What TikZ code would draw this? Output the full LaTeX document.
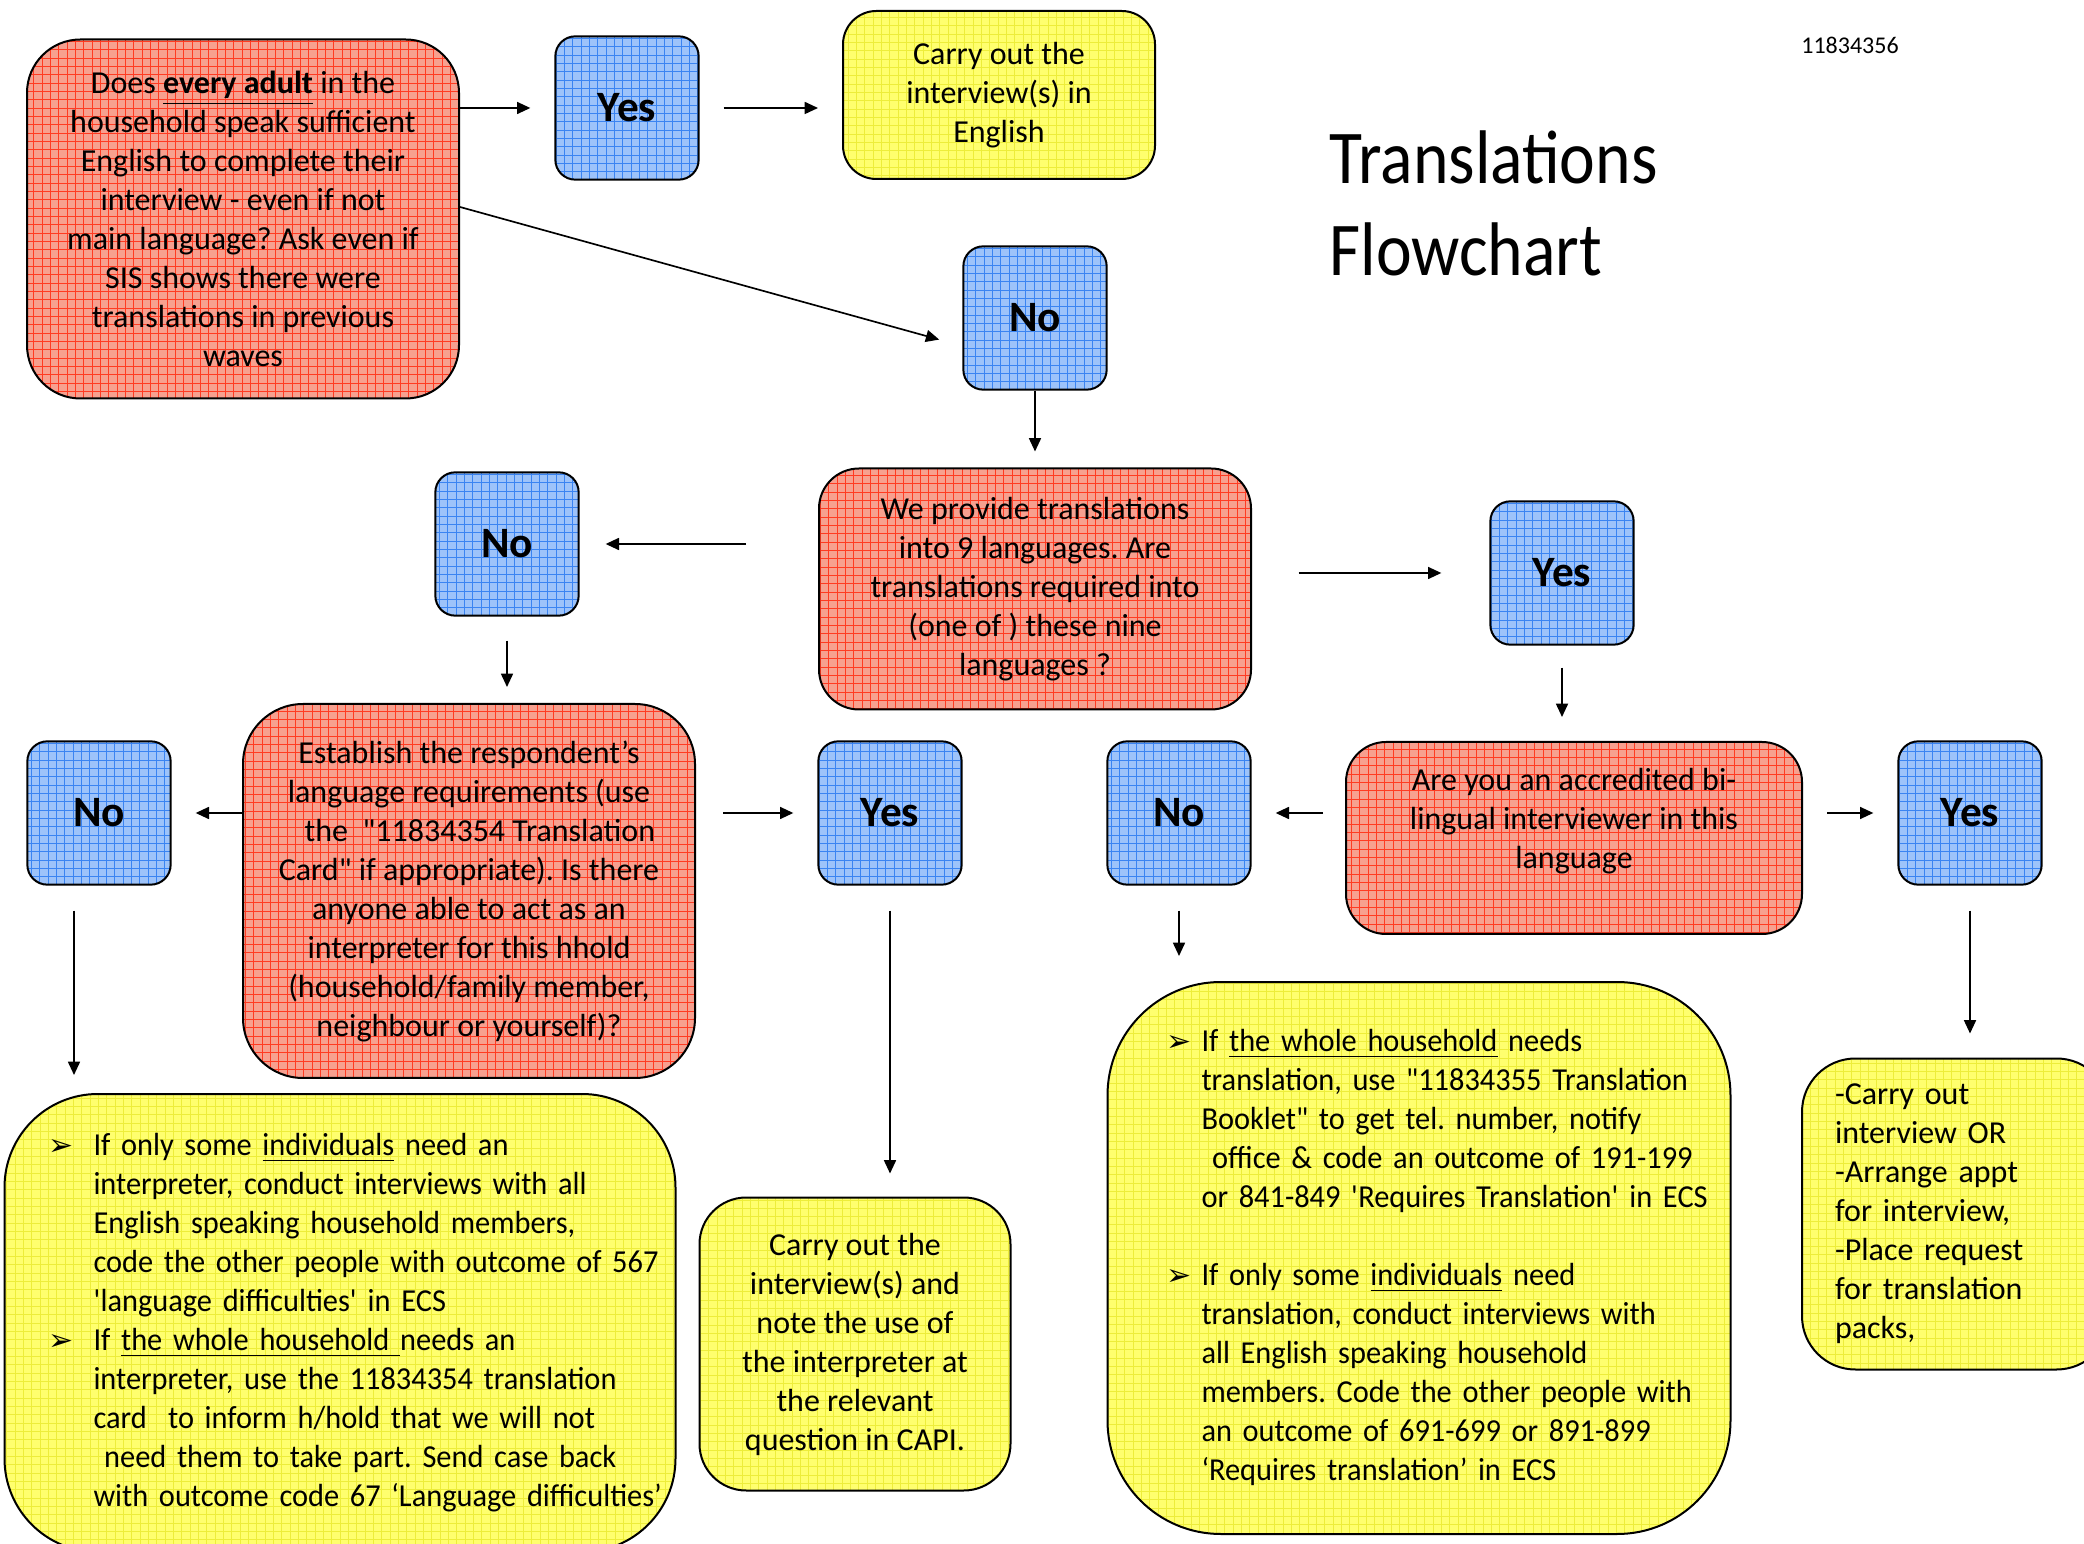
\documentclass[tikz,border=0pt]{standalone}
\usepackage{fontspec}
\setmainfont[Ligatures=TeXOff]{Carlito}
\newfontfamily\narrowfont[FakeStretch=0.95,WordSpace=0.8]{Carlito}
\newfontfamily\titlefont[FakeStretch=0.89]{Carlito}
\newfontfamily\symfont{DejaVu Sans}
\usetikzlibrary{arrows.meta,calc,positioning}
\definecolor{redfill}{HTML}{F7A08F}
\definecolor{redgrid}{HTML}{FF3B22}
\definecolor{bluefill}{HTML}{9DC3FA}
\definecolor{bluegrid}{HTML}{3A84F2}
\definecolor{yelfill}{HTML}{FFFF6E}
\definecolor{yelgrid}{HTML}{EDED3A}
\newcommand\bul{{\symfont\fontsize{9}{9}\selectfont ➢}}
\newcommand\sq{\textquotesingle}
\frenchspacing
\tikzset{
  gridfill/.style={path picture={\draw[#1,line width=0.3pt,step=2.5pt] (path picture bounding box.south west) grid (path picture bounding box.north east);}},
  box/.style={draw=black,line width=0.6pt,align=center,inner sep=0pt,font=\fontsize{9.6}{11.7}\selectfont},
  redbox/.style={box,fill=redfill,gridfill=redgrid},
  bluebox/.style={box,fill=bluefill,gridfill=bluegrid,minimum width=43pt,minimum height=43pt,rounded corners=6pt,font=\fontsize{13}{15}\selectfont\bfseries},
  yelbox/.style={box,fill=yelfill,gridfill=yelgrid},
  arr/.style={-{Triangle[length=4pt,width=3.6pt]},line width=0.5pt,shorten <=7.2pt,shorten >=7.2pt},
}
\begin{document}
\begin{tikzpicture}[x=0.3pt,y=-0.3pt]
\fill[white] (0,0) rectangle (2084,1544);
\useasboundingbox (0,0) rectangle (2084,1544);

\node[redbox,minimum width=129.6pt,minimum height=107.7pt,rounded corners=16pt] (q1) at (243,219)
  {Does \underline{\textbf{every adult}} in the\\household speak sufficient\\English to complete their\\interview - even if not\\main language? Ask even if\\SIS shows there were\\translations in previous\\waves};
\node[bluebox] (yes1) at (627,108) {Yes};
\node[yelbox,minimum width=93.6pt,minimum height=50.4pt,rounded corners=10pt] (eng) at (999,95)
  {Carry out the\\interview(s) in\\English};
\node[bluebox] (no1) at (1035,318) {No};
\node[redbox,minimum width=129.6pt,minimum height=72.3pt,rounded corners=12pt] (q2) at (1035,589)
  {We provide translations\\into 9 languages. Are\\translations required into\\(one of ) these nine\\languages ?};
\node[bluebox] (no2) at (507,544) {No};
\node[bluebox] (yes2) at (1562,573) {Yes};
\node[redbox,minimum width=135.6pt,minimum height=112.2pt,rounded corners=18pt] (q3) at (469,891)
  {Establish the respondent’s\\language requirements (use\\\ \ \ the\ \ "11834354 Translation\\Card" if appropriate). Is there\\anyone able to act as an\\interpreter for this hhold\\(household/family member,\\neighbour or yourself)?};
\node[redbox,minimum width=136.8pt,minimum height=57.6pt,rounded corners=12pt] (q4) at (1574,838)
  {Are you an accredited bi-\\lingual interviewer in this\\language\\\mbox{}};
\node[bluebox] (noL) at (99,813) {No};
\node[bluebox] (yesM) at (890,813) {Yes};
\node[bluebox] (noM) at (1179,813) {No};
\node[bluebox] (yesR) at (1970,813) {Yes};

\node[yelbox,minimum width=201.3pt,minimum height=137.4pt,rounded corners=28pt,text width=174.9pt,inner xsep=13.2pt,align=left,font=\narrowfont\fontsize{9.6}{11.7}\selectfont] (outL) at (340,1323)
  {\begin{tabular}{@{}p{13.5pt}@{}l@{}}
   \bul & If only some \underline{individuals} need an\\
        & interpreter, conduct interviews with all\\
        & English speaking household members,\\
        & code the other people with outcome of 567\\
        & \sq language difficulties\sq{} in ECS\\
   \bul & If \underline{the whole household }needs an\\
        & interpreter, use the 11834354 translation\\
        & card\ \ to inform h/hold that we will not\\
        & \ need them to take part. Send case back\\
        & with outcome code 67 ‘Language difficulties’
   \end{tabular}};
\node[yelbox,minimum width=93.3pt,minimum height=87.9pt,rounded corners=14pt] (outM) at (855,1344)
  {Carry out the\\interview(s) and\\note the use of\\the interpreter at\\the relevant\\question in CAPI.};
\node[yelbox,minimum width=186.9pt,minimum height=165.6pt,rounded corners=34pt,text width=151.5pt,inner xsep=17.7pt,align=left,font=\narrowfont\fontsize{9.6}{11.7}\selectfont] (outR) at (1419,1258)
  {\begin{tabular}{@{}p{10.5pt}@{}l@{}}
   \bul & If \underline{the whole household} needs\\
        & translation, use "11834355 Translation\\
        & Booklet" to get tel. number, notify\\
        & \ office \& code an outcome of 191-199\\
        & or 841-849 \sq Requires Translation\sq{} in ECS\\
        & \\
   \bul & If only some \underline{individuals} need\\
        & translation, conduct interviews with\\
        & all English speaking household\\
        & members. Code the other people with\\
        & an outcome of 691-699 or 891-899\\
        & ‘Requires translation’ in ECS
   \end{tabular}};
\node[yelbox,minimum width=92.4pt,minimum height=93.3pt,rounded corners=16pt,text width=72.6pt,inner xsep=9.9pt,align=left] (outFR) at (1956,1214)
  {-Carry out\\interview OR\\-Arrange appt\\for interview,\\-Place request\\for translation\\packs,};

\node[anchor=north west,inner sep=0pt,align=left,font=\titlefont\fontsize{22.8}{27.6}\selectfont] (title) at (1329,130) {Translations\\Flowchart};
\node[font=\fontsize{7.2}{8}\selectfont] (code) at (1850,45) {11834356};

\coordinate (nl) at ($(noL.south)+(-25,0)$);
\path[arr]
  (q1.east |- yes1) edge[shorten <=0pt] (yes1)
  (yes1.east) edge (eng.west |- yes1)
  ($(q1.east)+(0,-12)$) edge[shorten <=0pt] ($(no1.west)+(0,28)$)
  (no1) edge[shorten <=0pt,shorten >=4.8pt] (no1 |- q2.north)
  (q2.west |- no2) edge[shorten <=21.6pt,shorten >=7.8pt] (no2)
  (q2.east |- yes2) edge[shorten <=14pt,shorten >=14.4pt] (yes2)
  (no2) edge[shorten >=4.8pt] (no2 |- q3.north)
  (yes2) edge[shorten <=6.6pt] (yes2 |- q4.north)
  (q3.west |- noL) edge[shorten <=0pt] (noL)
  (q3.east |- yesM) edge[shorten <=8.1pt] (yesM)
  (q4.west |- noM) edge[shorten <=6.6pt] (noM)
  (q4.east |- yesR) edge (yesR)
  (nl) edge[shorten <=7.5pt,shorten >=5.4pt] (nl |- outL.north)
  (yesM) edge[shorten <=7.5pt,shorten >=6.9pt] (yesM |- outM.north)
  (noM) edge[shorten <=7.5pt,shorten >=7.5pt] (noM |- outR.north)
  (yesR) edge[shorten <=7.5pt] (yesR |- outFR.north);
\end{tikzpicture}
\end{document}
